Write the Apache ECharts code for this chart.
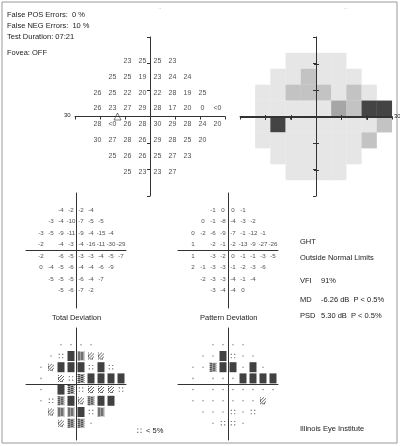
<!DOCTYPE html>
<html><head><meta charset="utf-8">
<script src="https://cdn.jsdelivr.net/npm/echarts@6/dist/echarts.min.js"></script>
<style>html,body{margin:0;padding:0;background:#fff}#c{width:400px;height:446px}</style>
</head><body><div id="c"></div>
<script>
// test point layout (degrees)
const rowY = [21, 15, 9, 3, -3, -9, -15, -21];
const rowX0 = [-9, -15, -21, -21, -21, -21, -15, -9];
// threshold sensitivities (dB)
const threshold = [
  [23,25,25,23],[25,25,19,23,24,24],[26,25,22,20,22,28,19,25],
  [26,23,27,29,28,17,20,0,'<0'],[28,'<0',26,28,30,29,28,24,20],
  [30,27,28,26,29,28,25,20],[25,26,26,25,27,23],[25,23,23,27]];
const totalDev = [
  [-4,-2,-2,-4],[-3,-4,-10,-7,-5,-5],[-3,-5,-9,-11,-9,-4,-15,-4],
  [-2,null,-4,-3,-4,-16,-11,-30,-29],[-2,null,-6,-5,-3,-3,-4,-5,-7],
  [0,-4,-5,-6,-4,-4,-6,-9],[-5,-5,-5,-6,-4,-7],[-5,-6,-7,-2]];
const patternDev = [
  [-1,0,0,-1],[0,-1,-8,-4,-3,-2],[0,-2,-6,-9,-7,-1,-12,-1],
  [1,null,-2,-1,-2,-13,-9,-27,-26],[1,null,-3,-2,0,-1,-1,-3,-5],
  [2,-1,-3,-3,-1,-2,-3,-6],[-2,-3,-3,-4,-1,-4],[-3,-4,-4,0]];
// probability levels: 0 normal, 1 <5%, 2 <2%, 3 <1%, 4 <0.5%
const totalProb = [
  [0,0,0,0],[0,1,4,3,2,2],[0,2,4,4,4,1,4,1],[0,null,2,1,3,4,4,4,4],
  [0,null,4,3,1,2,2,2,1],[0,1,3,4,2,3,4,4],[2,3,3,4,1,3],[2,3,3,0]];
const patternProb = [
  [0,0,0,0],[0,0,4,1,0,0],[0,0,3,4,4,0,4,0],[0,null,0,0,0,4,4,4,4],
  [0,null,0,0,0,0,0,0,0],[0,0,0,0,0,0,0,2],[0,0,0,1,0,1],[0,1,1,0]];
const blindSpot = [-13, 0];
const legendSymbol = [38, -25];
const axisExtent = [-30, 30];

function pts(arr){const o=[];arr.forEach((r,i)=>r.forEach((v,j)=>{if(v!==null)o.push([rowX0[i]+6*j,rowY[i],v]);}));return o;}

function pathGrid(w,h,f){let p='path://';for(let i=0;i<w;i++)for(let j=0;j<h;j++)if(f(i,j))p+=`M${i},${j}h1v1h-1z`;return p;}
const symP1 = 'path://M0,0h1v1h-1zM3,0h1v1h-1zM0,3h1v1h-1zM3,3h1v1h-1z';
const symP2 = pathGrid(6,7,(i,j)=>(i+j)%3===0||(i===0||j===6)&&(i+j)%2===0);
const symP3 = pathGrid(7,9,(i,j)=>(i+j)%2===0||(i%3===1));

const grids = [
  {left:75,top:37,width:150,height:159},
  {left:240,top:37,width:152,height:159},
  {left:26,top:193,width:100,height:115},
  {left:178,top:193,width:100,height:115},
  {left:26,top:328,width:100,height:112},
  {left:178,top:328,width:100,height:112}
];
const ax = (i)=>({gridIndex:i,min:-30,max:30,interval:10,z:10,axisLine:{onZero:true,lineStyle:{color:'#333',width:1}},
  axisTick:{show:i<2,length:3,lineStyle:{color:'#333'}},axisLabel:{show:false},splitLine:{show:false}});
const xAxis = grids.map((g,i)=>ax(i));
const yAxis = grids.map((g,i)=>ax(i));

function textSeries(gi,arr,fs){return {type:'scatter',xAxisIndex:gi,yAxisIndex:gi,symbolSize:0,z:5,data:pts(arr),
  label:{show:true,position:'inside',formatter:p=>String(p.value[2]),fontSize:fs,color:'#222',fontFamily:'Liberation Sans'}};}

function grayColor(v){const n=parseFloat(v);const x=isNaN(n)?-1:n;
  if(x>=23)return '#e0e0e0'; if(x>=19)return '#b4b4b4'; if(x>=15)return '#909090'; if(x>=10)return '#555'; return '#151515';}

const syms=[{s:'circle',z:[1.6,1.6],c:'#777'},{s:symP1,z:[4.5,4.5],c:'#444'},{s:symP2,z:[6,7],c:'#444'},{s:symP3,z:[7,9],c:'#151515'},{s:'rect',z:[7,10],c:'#111'}];
function probSeries(gi,arr){return syms.map((sy,l)=>({type:'scatter',xAxisIndex:gi,yAxisIndex:gi,symbol:sy.s,symbolSize:sy.z,
  itemStyle:{color:sy.c},data:pts(arr).filter(p=>p[2]===l)}));}

const series=[
  textSeries(0,threshold,7),
  {type:'scatter',xAxisIndex:0,yAxisIndex:0,symbol:'triangle',symbolSize:7,itemStyle:{color:'#fff',borderColor:'#333',borderWidth:0.8},data:[blindSpot]},
  {type:'scatter',xAxisIndex:1,yAxisIndex:1,symbol:'rect',symbolSize:[15.3,16],z:1,
    data:pts(threshold).map(p=>({value:p,itemStyle:{color:grayColor(p[2])}}))},
  textSeries(2,totalDev,6.2),
  textSeries(3,patternDev,6.2),
  ...probSeries(4,totalProb),
  ...probSeries(5,patternProb),
  {type:'scatter',xAxisIndex:4,yAxisIndex:4,symbol:symP1,symbolSize:[4.5,4.5],itemStyle:{color:'#444'},data:[legendSymbol],clip:false}
];

const T=(x,y,t,o={})=>({type:'text',left:x,top:y,style:Object.assign({text:t,fontSize:7.5,fill:'#222',fontFamily:'Liberation Sans'},o)});
const graphic=[
  {type:'rect',shape:{x:2,y:2,width:395,height:441},style:{fill:'none',stroke:'#999',lineWidth:1}},
  T(7,11,'False POS Errors:  0 %'),T(7,22,'False NEG Errors:  10 %'),T(7,33,'Test Duration: 07:21'),T(7,49,'Fovea: OFF'),
  T(158,4,'..',{fill:'#999',fontSize:6}),T(344,4,'..',{fill:'#999',fontSize:6}),
  T(64,112,'30',{fontSize:6}),T(394,113,'30',{fontSize:6}),
  T(300,238,'GHT'),T(300,254,'Outside Normal Limits'),
  T(300,277,'VFI'),T(321,277,'91%'),
  T(300,296,'MD'),T(321,296,'-6.26 dB  P < 0.5%'),
  T(300,312,'PSD'),T(321,312,'5.30 dB  P < 0.5%'),
  T(52,314,'Total Deviation'),T(200,314,'Pattern Deviation'),
  T(146,427,'< 5%'),T(300,425,'Illinois Eye Institute')
];
const chart=echarts.init(document.getElementById('c'),null,{renderer:'canvas'});
chart.setOption({animation:false,grid:grids,xAxis,yAxis,series,graphic});
const f={gridIndex:1};
const c0=chart.convertToPixel(f,[0,0]),a=chart.convertToPixel(f,[axisExtent[0],axisExtent[0]]),b=chart.convertToPixel(f,[axisExtent[1],axisExtent[1]]);
const cx=Math.round(c0[0])+0.5, cy=Math.round(c0[1])+0.5;
const extra=[
  {type:'rect',z:100,shape:{x:cx-0.5,y:Math.min(a[1],b[1]),width:1,height:Math.abs(a[1]-b[1])},style:{fill:'#333'}},
  {type:'rect',z:100,shape:{x:Math.min(a[0],b[0]),y:cy-0.5,width:Math.abs(b[0]-a[0]),height:1},style:{fill:'#333'}}
];
[-20,-10,10,20].forEach(v=>{const p=chart.convertToPixel(f,[v,v]);
  extra.push({type:'rect',z:100,shape:{x:Math.round(p[0]),y:cy-2.5,width:1,height:5},style:{fill:'#333'}});
  extra.push({type:'rect',z:100,shape:{x:cx-2.5,y:Math.round(p[1]),width:5,height:1},style:{fill:'#333'}});});
chart.setOption({graphic:graphic.concat(extra)});
</script></body></html>
